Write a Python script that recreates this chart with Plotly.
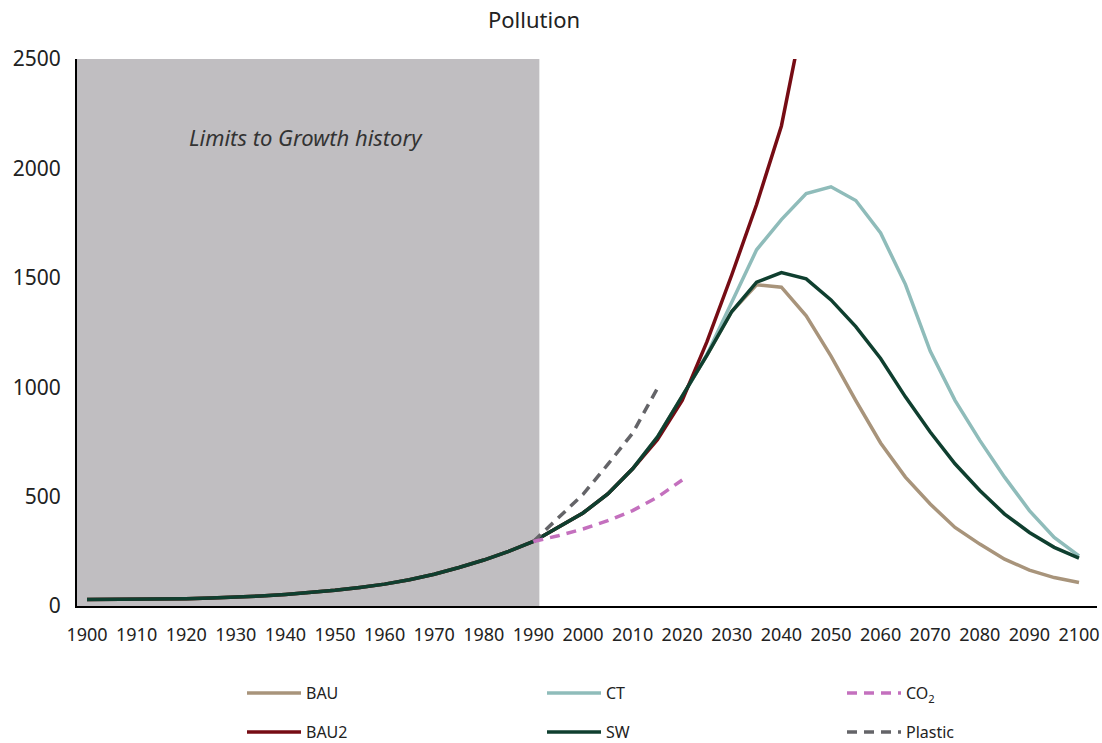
import plotly.graph_objects as go

# ---- data ----
hist_years = [1900, 1905, 1910, 1915, 1920, 1925, 1930, 1935, 1940, 1945,
              1950, 1955, 1960, 1965, 1970, 1975, 1980, 1985, 1990]
hist_values = [30, 30, 30, 31, 33, 36, 40, 46, 53, 62,
               72, 85, 100, 120, 145, 176, 210, 250, 295]

future_years = [1995, 2000, 2005, 2010, 2015, 2020, 2025, 2030, 2035, 2040,
                2045, 2050, 2055, 2060, 2065, 2070, 2075, 2080, 2085, 2090,
                2095, 2100]

bau = [360, 425, 512, 627, 772, 956, 1147, 1346, 1468, 1457,
       1326, 1142, 939, 745, 589, 466, 359, 283, 214, 164,
       130, 107]
ct = [360, 425, 512, 627, 772, 956, 1150, 1390, 1628, 1766,
      1885, 1916, 1853, 1705, 1470, 1165, 940, 757, 589, 436,
      313, 229]
sw = [360, 425, 512, 627, 772, 956, 1147, 1346, 1480, 1524,
      1495, 1399, 1277, 1131, 956, 795, 650, 528, 420, 336,
      268, 219]
bau2_years = [1995, 2000, 2005, 2010, 2015, 2020, 2025, 2030, 2035, 2040, 2045]
bau2 = [360, 425, 512, 627, 760, 940, 1208, 1514, 1835, 2194, 2760]

co2_years = [1990, 1995, 2000, 2005, 2010, 2015, 2020]
co2 = [295, 321, 352, 390, 436, 497, 576]
plastic_years = [1990, 1995, 2000, 2005, 2010, 2015]
plastic = [295, 405, 510, 647, 790, 995]

x_ticks = list(range(1900, 2101, 10))
y_ticks = [0, 500, 1000, 1500, 2000, 2500]

# ---- style ----
FONT = "'Noto Sans', 'Source Sans Pro', sans-serif"
C_BAU = "#a8947b"
C_CT = "#8fbcba"
C_BAU2 = "#760c14"
C_SW = "#0f3f2f"
C_CO2 = "#c470be"
C_PLASTIC = "#646468"
LW = 3.5

fig = go.Figure()

def full(vals_future):
    return hist_years + future_years[:len(vals_future)], hist_values + vals_future

xs, ys = full(bau)
fig.add_trace(go.Scatter(x=xs, y=ys, mode="lines", name="BAU",
                         line=dict(color=C_BAU, width=LW), legend="legend", legendrank=1))
xs, ys = full(ct)
fig.add_trace(go.Scatter(x=xs, y=ys, mode="lines", name="CT",
                         line=dict(color=C_CT, width=LW), legend="legend", legendrank=2))
fig.add_trace(go.Scatter(x=hist_years + bau2_years, y=hist_values + bau2, mode="lines", name="BAU2",
                         line=dict(color=C_BAU2, width=LW), legend="legend2", legendrank=4))
xs, ys = full(sw)
fig.add_trace(go.Scatter(x=xs, y=ys, mode="lines", name="SW",
                         line=dict(color=C_SW, width=LW), legend="legend2", legendrank=5))
fig.add_trace(go.Scatter(x=plastic_years, y=plastic, mode="lines", name="Plastic",
                         line=dict(color=C_PLASTIC, width=LW, dash="10px,7px"),
                         legend="legend2", legendrank=6))
fig.add_trace(go.Scatter(x=co2_years, y=co2, mode="lines", name="CO<sub>2</sub>",
                         line=dict(color=C_CO2, width=LW, dash="10px,7px"),
                         legend="legend", legendrank=3))

X0, X1 = 1897.98, 2103.63

fig.add_shape(type="rect", xref="x", yref="y", x0=X0, x1=1991.2, y0=0, y1=2500,
              fillcolor="#c0bec1", line=dict(width=0), layer="below")

fig.add_annotation(x=1944.2, y=2145, xref="x", yref="y", text="<i>Limits to Growth history</i>",
                   showarrow=False, font=dict(family=FONT, size=22, color="#333333"))

legend_common = dict(orientation="h", xref="container", yref="container",
                     xanchor="left", yanchor="middle", entrywidth=231, entrywidthmode="pixels",
                     font=dict(family=FONT, size=16, color="#222222"),
                     bgcolor="rgba(0,0,0,0)", itemwidth=54, traceorder="normal")

fig.update_layout(
    width=1102, height=743,
    margin=dict(l=77, r=5, t=59, b=137, autoexpand=False),
    plot_bgcolor="white", paper_bgcolor="white",
    font=dict(family=FONT, color="#222222"),
    title=dict(text="Pollution", x=534 / 1102, xanchor="center", xref="container",
               y=1 - 20 / 743, yanchor="middle", yref="container",
               font=dict(family=FONT, size=22, color="#222222")),
    xaxis=dict(range=[X0, X1], tickmode="array", tickvals=x_ticks,
               ticktext=[str(t) for t in x_ticks], showgrid=False, zeroline=False,
               showline=True, linecolor="black", linewidth=2, ticks="",
               tickfont=dict(family=FONT, size=18, color="#222222"), ticklabelstandoff=11),
    yaxis=dict(range=[0, 2500], tickmode="array", tickvals=y_ticks, showgrid=False,
               zeroline=False, showline=True, linecolor="black", linewidth=2, ticks="",
               tickfont=dict(family=FONT, size=21, color="#222222"), ticklabelstandoff=10),
    legend=dict(x=242 / 1102, y=1 - 693 / 743, **legend_common),
    legend2=dict(x=242 / 1102, y=1 - 732 / 743, **legend_common),
    showlegend=True,
)

fig.write_html("out.html", config={"displayModeBar": False},
               post_script="document.body.style.margin='0';")
